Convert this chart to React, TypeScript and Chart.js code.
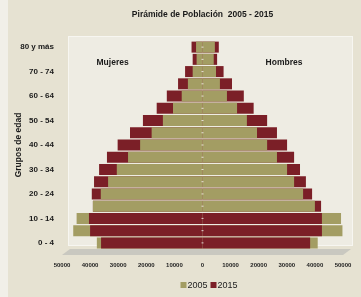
import React, { useEffect, useRef } from "react";
import { Chart, registerables } from "chart.js";
Chart.register(...registerables);

// Age groups, bottom (0 - 4) to top (80 y más)
const ageGroups = ["0 - 4", "5 - 9", "10 - 14", "15 - 19", "20 - 24", "25 - 29", "30 - 34", "35 - 39", "40 - 44", "45 - 49", "50 - 54", "55 - 59", "60 - 64", "65 - 69", "70 - 74", "75 - 79", "80 y más"];
const years = ["2005", "2015"];
const women2005 = [37600, 46000, 44800, 39000, 36200, 33600, 30500, 26500, 22200, 18100, 14100, 10500, 7400, 5200, 3500, 2100, 2300];
const women2015 = [36100, 40000, 40400, 39000, 39400, 38600, 36800, 34000, 30200, 25800, 21200, 16300, 12700, 8700, 6200, 3500, 3900];
const men2005 = [41000, 49800, 49300, 40000, 35800, 32600, 30100, 26500, 23000, 19400, 15800, 12300, 8700, 6200, 4800, 4000, 4400];
const men2015 = [38300, 42500, 42500, 42200, 39000, 36800, 34700, 32600, 30100, 26500, 23000, 18200, 14700, 10500, 7500, 5200, 5800];
const sideLabels = ["Mujeres", "Hombres"];
const titleText = "Pirámide de Población  2005 - 2015";
const axisTitle = "Grupos de edad";

const C2005 = "#A39D63";
const C2015 = "#7B1F27";
const yearColors = [C2005, C2015];
const FONT = "'Liberation Sans', 'DejaVu Sans', sans-serif";

function buildSide(a: number[], b: number[], sign: number) {
  // the larger value goes behind, the smaller in front (2005 in front on ties)
  const back = a.map((v, i) => sign * Math.max(v, b[i]));
  const front = a.map((v, i) => sign * Math.min(v, b[i]));
  const backColors = a.map((v, i) => (v > b[i] ? C2005 : C2015));
  const frontColors = a.map((v, i) => (v > b[i] ? C2015 : C2005));
  return { back, front, backColors, frontColors };
}

export default function App() {
  const ref = useRef<HTMLCanvasElement | null>(null);
  useEffect(() => {
    if (!ref.current) return;
    const w = buildSide(women2005, women2015, -1);
    const m = buildSide(men2005, men2015, 1);
    const common = { grouped: false, categoryPercentage: 1, barPercentage: 0.9, borderWidth: 0 };

    const bgPlugin = {
      id: "bg",
      beforeDraw(chart: any) {
        const { ctx, width, height, chartArea } = chart;
        ctx.save();
        ctx.fillStyle = "#E6E2D2";
        ctx.fillRect(0, 0, width, height);
        ctx.fillStyle = "#F1EFE8";
        ctx.fillRect(0, 0, 8, height);
        // plot wall
        ctx.fillStyle = "#EEECE3";
        ctx.fillRect(chartArea.left + 6, chartArea.top - 5, chartArea.right - chartArea.left + 4, chartArea.bottom - chartArea.top + 2);
        ctx.strokeStyle = "#F7F6F1";
        ctx.lineWidth = 1;
        ctx.strokeRect(chartArea.left + 6.5, chartArea.top - 4.5, chartArea.right - chartArea.left + 3, chartArea.bottom - chartArea.top + 1);
        // floor
        ctx.fillStyle = "#C9C8C0";
        ctx.beginPath();
        ctx.moveTo(chartArea.left, chartArea.bottom + 6);
        ctx.lineTo(chartArea.right, chartArea.bottom + 6);
        ctx.lineTo(chartArea.right + 8, chartArea.bottom);
        ctx.lineTo(chartArea.left + 8, chartArea.bottom);
        ctx.closePath();
        ctx.fill();
        // title
        const cx = (chartArea.left + chartArea.right) / 2;
        ctx.fillStyle = "#1a1a1a";
        ctx.font = "bold 8.5px " + FONT;
        ctx.textAlign = "center";
        ctx.textBaseline = "middle";
        ctx.fillText(titleText, cx, 15);
        // legend
        ctx.font = "9px " + FONT;
        ctx.textAlign = "left";
        let lx = cx - 22;
        years.forEach((yr, i) => {
          ctx.fillStyle = yearColors[i];
          ctx.fillRect(lx, 282, 6, 6);
          ctx.fillStyle = "#222";
          ctx.fillText(yr, lx + 7, 285.5);
          lx += 30;
        });
        ctx.restore();
      },
      afterDatasetsDraw(chart: any) {
        const { ctx, scales } = chart;
        const x = scales.x;
        const y = scales.y;
        ctx.save();
        ctx.fillStyle = "#1a1a1a";
        ctx.font = "bold 8.5px " + FONT;
        ctx.textAlign = "center";
        ctx.textBaseline = "middle";
        const yPos = y.getPixelForValue(14.75);
        ctx.fillText(sideLabels[0], x.getPixelForValue(-32000), yPos);
        ctx.fillText(sideLabels[1], x.getPixelForValue(29000), yPos);
        // center dashes
        ctx.fillStyle = "rgba(255,255,255,0.75)";
        ageGroups.forEach((_, i) => {
          ctx.fillRect(x.getPixelForValue(0) - 1, y.getPixelForValue(i) - 0.5, 2, 1);
        });
        ctx.restore();
      },
    };

    const chart = new Chart(ref.current, {
      type: "bar",
      data: {
        labels: ageGroups,
        datasets: [
          { label: "fw", data: w.front, backgroundColor: w.frontColors, order: 0, ...common },
          { label: "fm", data: m.front, backgroundColor: m.frontColors, order: 0, ...common },
          { label: "bw", data: w.back, backgroundColor: w.backColors, order: 1, ...common },
          { label: "bm", data: m.back, backgroundColor: m.backColors, order: 1, ...common },
        ],
      },
      options: {
        indexAxis: "y",
        animation: false,
        responsive: false,
        layout: { padding: { left: 0, right: 18, top: 41, bottom: 0 } },
        plugins: {
          tooltip: { enabled: false },
          title: { display: false },
          legend: { display: false },
        },
        scales: {
          x: {
            min: -50000,
            max: 50000,
            afterFit: (s: any) => {
              s.height = 48;
            },
            ticks: {
              stepSize: 10000,
              callback: (v: any) => String(Math.abs(Number(v))),
              color: "#222",
              font: { family: FONT, size: 6, weight: "bold" },
              padding: 5,
              maxRotation: 0,
            },
            grid: { display: false },
            border: { display: false },
          },
          y: {
            reverse: true,
            afterFit: (s: any) => {
              s.width = 62;
            },
            ticks: {
              autoSkip: false,
              callback: (_v: any, i: number) => (i % 2 === 0 ? ageGroups[i] : ""),
              color: "#1a1a1a",
              font: { family: FONT, size: 8, weight: "bold" },
              padding: 0,
            },
            title: {
              display: true,
              text: axisTitle,
              color: "#1a1a1a",
              font: { family: FONT, size: 8.5, weight: "bold" },
              padding: { top: 14, bottom: 0 },
            },
            grid: { display: false },
            border: { display: false },
          },
        },
      } as any,
      plugins: [bgPlugin],
    });
    return () => chart.destroy();
  }, []);
  return (
    <div style={{ position: "fixed", left: 0, top: 0, width: 361, height: 297 }}>
      <canvas ref={ref} width={361} height={297} style={{ display: "block", width: 361, height: 297 }} />
    </div>
  );
}
